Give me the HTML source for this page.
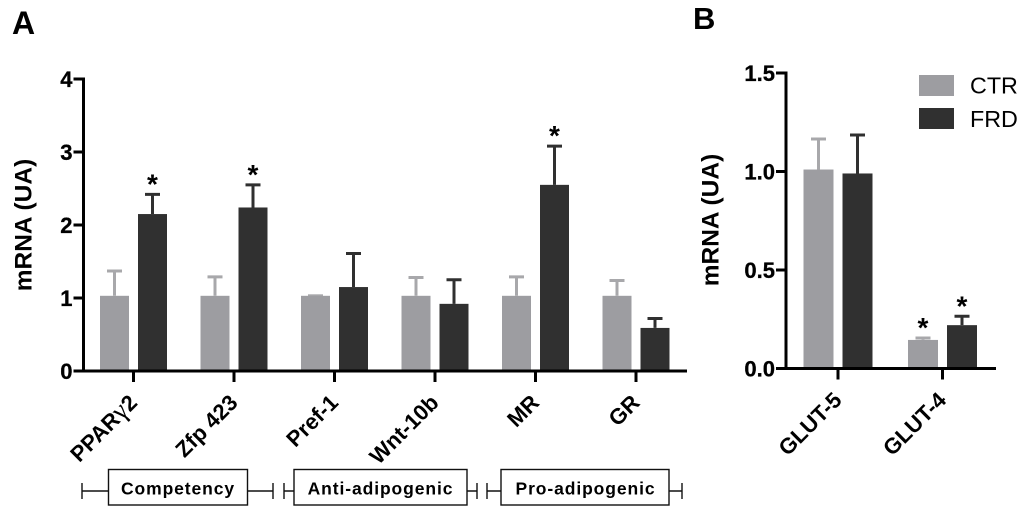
<!DOCTYPE html>
<html>
<head>
<meta charset="utf-8">
<style>
html,body{margin:0;padding:0;background:#fff;}
svg{display:block;}
text{font-family:"Liberation Sans",sans-serif;fill:#000;}
.b{font-weight:bold;}
</style>
</head>
<body>
<svg id="chart" xmlns="http://www.w3.org/2000/svg" width="1024" height="514" viewBox="0 0 1024 514">
<text class="b" x="12" y="34" font-size="32">A</text>
<text class="b" x="693" y="29" font-size="31">B</text>
<text class="b" font-size="24.500" text-anchor="middle" transform="translate(31.500,225) rotate(-90)">mRNA (UA)</text>
<text class="b" font-size="24.500" text-anchor="middle" transform="translate(718.500,220) rotate(-90)">mRNA (UA)</text>
<g>
<rect x="919" y="75" width="35" height="21" fill="#9d9da1"/>
<text x="970" y="93.500" font-size="23.300">CTR</text>
<rect x="919" y="108" width="35" height="21" fill="#303030"/>
<text x="970" y="127" font-size="23.300">FRD</text>
</g>
<g fill="none" stroke="#111" stroke-width="1.4">
<path d="M82 483V499M82 491H108M247 491H273M273 483V499"/>
<rect x="108.500" y="469.500" width="139" height="35.500" fill="#fff"/>
</g>
<text class="b" x="178" y="494.500" font-size="17.500" text-anchor="middle" letter-spacing="0.900">Competency</text>
<g fill="none" stroke="#111" stroke-width="1.4">
<path d="M284 483V499M284 491H294M467 491H477M477 483V499"/>
<rect x="294" y="469.500" width="173" height="35.500" fill="#fff"/>
</g>
<text class="b" x="380.500" y="494.500" font-size="17.500" text-anchor="middle" letter-spacing="0.900">Anti-adipogenic</text>
<g fill="none" stroke="#111" stroke-width="1.4">
<path d="M487 483V499M487 491H501M669 491H682M682 483V499"/>
<rect x="501" y="469.500" width="168" height="35.500" fill="#fff"/>
</g>
<text class="b" x="585.500" y="494.500" font-size="17.500" text-anchor="middle" letter-spacing="0.900">Pro-adipogenic</text>
</svg>
<script>
// Panel A data
const categoriesA = ["PPARγ2", "Zfp 423", "Pref-1", "Wnt-10b", "MR", "GR"];
const ctrA = [1.03, 1.03, 1.03, 1.03, 1.03, 1.03];
const ctrErrTopA = [1.37, 1.29, 1.03, 1.28, 1.29, 1.24];
const frdA = [2.15, 2.24, 1.15, 0.92, 2.55, 0.59];
const frdErrTopA = [2.42, 2.55, 1.61, 1.25, 3.08, 0.72];
const ctrStarA = [false, false, false, false, false, false];
const frdStarA = [true, true, false, false, true, false];
const ticksA = ["0", "1", "2", "3", "4"];
// Panel B data
const categoriesB = ["GLUT-5", "GLUT-4"];
const ctrB = [1.01, 0.145];
const ctrErrTopB = [1.165, 0.155];
const frdB = [0.99, 0.22];
const frdErrTopB = [1.185, 0.265];
const ctrStarB = [false, true];
const frdStarB = [false, true];
const ticksB = ["0.0", "0.5", "1.0", "1.5"];

const NS = "http://www.w3.org/2000/svg";
const svg = document.getElementById("chart");
const CTR_COLOR = "#9d9da1", CTR_ERR = "#a8a8ab", FRD_COLOR = "#303030";

function mk(tag, attrs, parent) {
  const el = document.createElementNS(NS, tag);
  for (const k in attrs) el.setAttribute(k, attrs[k]);
  (parent || svg).appendChild(el);
  return el;
}

function drawPanel(cfg) {
  const y = v => cfg.y0 - (v - cfg.vMin) * (cfg.y0 - cfg.y1) / (cfg.vMax - cfg.vMin);
  const x = i => cfg.x0 + i * cfg.step;

  function bar(cx, val, top, color, errColor, star, series, cat) {
    const halfCap = 7.5;
    const err = mk("path", {
      d: "M" + cx + " " + y(val) + "V" + y(top) + "M" + (cx - halfCap) + " " + y(top) + "H" + (cx + halfCap),
      stroke: errColor, "stroke-width": 3, fill: "none"
    });
    
    
    const r = mk("rect", {
      x: cx - cfg.barW / 2, y: y(val), width: cfg.barW, height: cfg.y0 - y(val), fill: color
    });
    
    
    r.setAttribute('aria-label', cat + ' ' + series);
    if (star) {
      const t = mk("text", {
        x: cx, y: y(top) - 1, "font-size": 28, "text-anchor": "middle", "class": "b"
      });
      t.textContent = "*";
      
      
    }
  }

  cfg.cats.forEach((c, i) => {
    bar(x(i) - cfg.off, cfg.ctr[i], cfg.ctrErr[i], CTR_COLOR, CTR_ERR, cfg.ctrStar[i], "CTR", c);
    bar(x(i) + cfg.off, cfg.frd[i], cfg.frdErr[i], FRD_COLOR, FRD_COLOR, cfg.frdStar[i], "FRD", c);
  });

  const yAxis = mk("line", { x1: cfg.axisX, x2: cfg.axisX, y1: cfg.y1 - 1.5, y2: cfg.y0 + 1.5, stroke: "#000", "stroke-width": 3 });
  
  
  const xAxis = mk("line", { x1: cfg.axisX - 10, x2: cfg.axisEnd, y1: cfg.y0, y2: cfg.y0, stroke: "#000", "stroke-width": 3 });
  
  

  cfg.ticks.forEach(t => {
    const v = parseFloat(t);
    const tk = mk("line", { x1: cfg.axisX - 10, x2: cfg.axisX, y1: y(v), y2: y(v), stroke: "#000", "stroke-width": 3 });
    
    
    const lb = mk("text", { x: cfg.axisX - 11, y: y(v) + 8, "font-size": 22, "text-anchor": "end", "class": "b", stroke: "#000", "stroke-width": 0.3 });
    lb.textContent = t;
    
    
  });

  cfg.cats.forEach((c, i) => {
    const tk = mk("line", { x1: x(i), x2: x(i), y1: cfg.y0, y2: cfg.y0 + 11, stroke: "#000", "stroke-width": 3 });
    
    
    const lb = mk("text", {
      "font-size": 22, "text-anchor": "end", "class": "b",
      transform: "translate(" + (x(i) + 5) + "," + (cfg.y0 + 33) + ") rotate(-45)"
    });
    
    
    const parts = c.split("γ");
    if (parts.length === 2) {
      const a = mk("tspan", {}, lb);
      a.textContent = parts[0];
      const g = mk("tspan", { "font-weight": "normal", "font-family": "Liberation Serif, serif", "font-size": 27 }, lb);
      g.textContent = "γ";
      const e = mk("tspan", {}, lb);
      e.textContent = parts[1];
    } else {
      lb.textContent = c;
    }
  });
}

drawPanel({
  cats: categoriesA, ctr: ctrA, ctrErr: ctrErrTopA, frd: frdA, frdErr: frdErrTopA,
  ctrStar: ctrStarA, frdStar: frdStarA, ticks: ticksA,
  vMin: 0, vMax: 4, y0: 371, y1: 79, x0: 133.500, step: 100.500, off: 19, barW: 29,
  axisX: 83.500, axisEnd: 687
});
drawPanel({
  cats: categoriesB, ctr: ctrB, ctrErr: ctrErrTopB, frd: frdB, frdErr: frdErrTopB,
  ctrStar: ctrStarB, frdStar: frdStarB, ticks: ticksB,
  vMin: 0, vMax: 1.5, y0: 368.500, y1: 73, x0: 838, step: 104.500, off: 19.500, barW: 30,
  axisX: 786, axisEnd: 996
});
</script>
</body>
</html>
